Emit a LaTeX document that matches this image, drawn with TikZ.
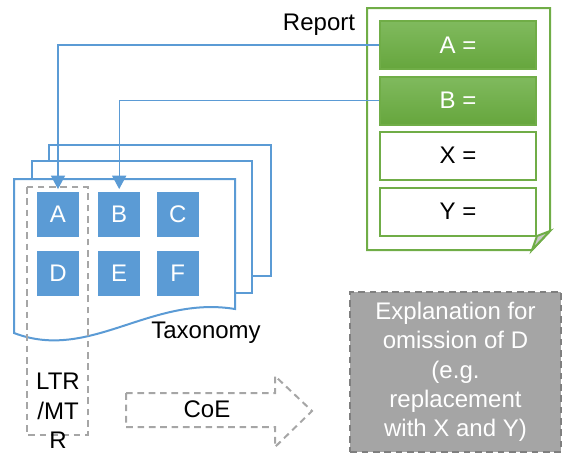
\documentclass[tikz,border=0pt]{standalone}
\usepackage{fontspec}
\setmainfont{Liberation Sans}
\usetikzlibrary{positioning,arrows.meta}
\definecolor{taxblue}{HTML}{5B9BD5}
\definecolor{repgreen}{HTML}{70AD47}
\definecolor{greentop}{HTML}{80BA5E}
\definecolor{greenbot}{HTML}{66A63D}
\definecolor{dashgray}{HTML}{A6A6A6}
\definecolor{boxgray}{HTML}{A5A5A5}
\definecolor{edgegray}{HTML}{7F7F7F}
\definecolor{foldgray}{HTML}{C9C9C9}

\begin{document}
\begin{tikzpicture}[x=0.75pt,y=-0.75pt,
	every node/.style={font=\fontsize{18}{22}\selectfont},
	page/.style={draw=taxblue, line width=1.5pt, fill=white},
	item node/.style={fill=taxblue, text=white, minimum width=31.5pt, minimum height=33.75pt, inner sep=0pt},
	field node/.style={draw=repgreen, line width=1.5pt, fill=white, minimum width=117.5pt, minimum height=36pt, inner sep=0pt},
	filled node/.style={field node, top color=greentop, bottom color=greenbot, text=white},
	link/.style={draw=taxblue, line width=0.9pt, -{Triangle[length=10pt,width=10.5pt]}},
	grey dash/.style={draw=dashgray, line width=1.5pt, dash pattern=on 5pt off 3.5pt},
	explain node/.style={fill=boxgray, draw=edgegray, line width=1.5pt, dash pattern=on 5pt off 3.5pt, text=white, align=center, minimum width=158pt, minimum height=120pt}]

	\useasboundingbox (0,0) rectangle (563,455);

	% taxonomy pages
	\draw[page] (49,145) rectangle (271,276);
	\draw[page] (32,161) rectangle (252,293);
	\draw[page] (14,179) -- (235,179) -- (235,309) .. controls (150,295) and (90,362) .. (14,333) -- cycle;
	\node(tax) at (206,333){Taxonomy};

	% LTR/MTR column
	\draw[grey dash] (27,187) rectangle (88,435);
	\node[align=center](ltr) at (58,411){LTR\\/MT\\R};

	\node[item node](ta) at (58,214.5){A};
	\node[item node](tb)[right = 14pt of ta]{B};
	\node[item node](tc)[right = 12pt of tb]{C};
	\node[item node](td)[below = 10pt of ta]{D};
	\node[item node](te)[below = 10pt of tb]{E};
	\node[item node](tf)[below = 10pt of tc]{F};

	% report
	\node(report) at (319,25){Report};
	\draw[draw=repgreen, line width=1.5pt, fill=white] (367,8) -- (550,8) -- (550,231) -- (532,250) -- (367,250) -- cycle;
	\draw[draw=repgreen, line width=1.5pt, fill=foldgray] (532,250) -- (537,236) -- (550,231) -- cycle;
	\node[filled node](ga) at (458,45){A =};
	\node[filled node](gb) at (458,100.5){B =};
	\node[field node](gx) at (458,155.5){X =};
	\node[field node](gy) at (458,211.5){Y =};

	\draw[link, shorten >=2pt] (ga.west) -| (ta.north);
	\draw[link, shorten >=2pt] (gb.west) -| (tb.north);

	% CoE arrow
	\draw[grey dash] (126,393) -- (275,393) -- (275,376) -- (312,411) -- (275,447) -- (275,427) -- (126,427) -- cycle;
	\node(coe) at (207,409){CoE};

	\node[explain node](expl) at (455.5,372){Explanation for\\omission of D\\(e.g.\\replacement\\with X and Y)};
\end{tikzpicture}
\end{document}
